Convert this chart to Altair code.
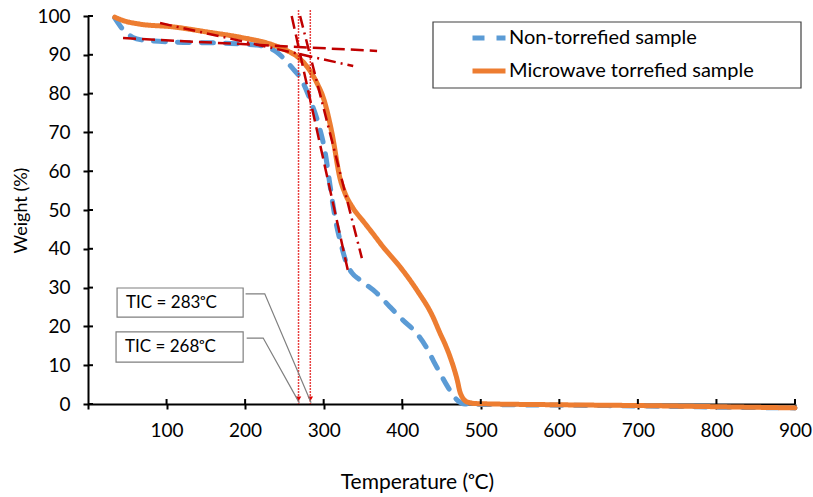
import altair as alt
import pandas as pd

FONT = "Lato"

# Thermogravimetric curves
temp_raw = [34, 45, 57, 70, 108, 172, 215, 240, 260, 272, 283, 293, 302, 308, 315,
            323, 329, 336, 346, 367.5, 384.5, 401, 418, 431, 440, 448, 458, 470, 480,
            500, 600, 700, 800, 900]
weight_raw = [99.5, 96.4, 94.5, 93.8, 93.3, 93.0, 92.5, 90.7, 86.6, 83.5, 78.3, 72.4,
              64.7, 56.5, 47.5, 40.5, 36.3, 33.8, 32.0, 28.6, 25.0, 21.6, 18.3, 14.5,
              11.0, 8.0, 4.4, 1.0, 0.0, -0.1, -0.3, -0.5, -0.8, -1.0]

temp_torr = [34, 45, 66, 108, 151, 194, 236, 255, 266, 279, 291.5, 300.4, 310.6, 321,
             327, 337, 350, 362, 375.6, 397, 418.5, 439, 448, 455, 461, 470, 474, 483,
             495, 600, 700, 800, 900]
weight_torr = [99.7, 98.8, 97.9, 97.2, 95.9, 94.5, 92.5, 90.9, 89.6, 86.9, 82.7, 78.4,
               69.8, 58.0, 54.4, 50.6, 47.2, 44.1, 40.5, 35.4, 29.4, 22.5, 18.3, 15.2,
               12.1, 6.2, 2.8, 0.5, 0.1, -0.2, -0.4, -0.7, -1.0]

series_names = ["Non-torrefied sample", "Microwave torrefied sample"]
series_colors = ["#5B9BD5", "#ED7D31"]

# Tangent construction lines (start/end points)
dash_ids = ["raw_plateau", "raw_plateau", "raw_drop", "raw_drop"]
dash_t = [44.6, 368, 259.3, 331.6]
dash_w = [94.3, 91.0, 100.0, 33.7]
dashdot_ids = ["torr_plateau", "torr_plateau", "torr_drop", "torr_drop"]
dashdot_t = [91.7, 337.6, 270, 348.6]
dashdot_w = [98.2, 87.1, 100.0, 37.6]

# Onset temperatures
tic_values = [268, 283]
tic_labels = ["TIC = 268ᵒC", "TIC = 283ᵒC"]
box_t1 = [35.7, 37.0]
box_t2 = [197.5, 197.5]
box_w1 = [18.6, 29.9]
box_w2 = [10.8, 22.4]
leader_ids = ["a", "a", "a", "b", "b", "b"]
leader_t = [202, 223, 269, 200.6, 225, 284]
leader_w = [17.0, 17.0, 0.3, 28.4, 28.4, 0.3]

x_ticks = [0, 100, 200, 300, 400, 500, 600, 700, 800, 900]
y_ticks = [0, 10, 20, 30, 40, 50, 60, 70, 80, 90, 100]

curves = pd.concat([
    pd.DataFrame({"T": temp_raw, "W": weight_raw, "sample": series_names[0]}),
    pd.DataFrame({"T": temp_torr, "W": weight_torr, "sample": series_names[1]}),
])

x_scale = alt.Scale(domain=[0, 900], nice=False, zero=False)
y_scale = alt.Scale(domain=[0, 100], nice=False, zero=False)

x_axis = alt.Axis(
    values=x_ticks, labelExpr="datum.value == 0 ? '' : datum.label", labelFlush=False,
    labelOverlap=False, title="Temperature (ᵒC)", titleX=329, titlePadding=31, labelPadding=12)
y_axis = alt.Axis(
    values=y_ticks, labelFlush=False, labelOverlap=False, title="Weight (%)",
    titleFontSize=18, titlePadding=6, labelPadding=13)


def xe(field="T"):
    return alt.X(f"{field}:Q", scale=x_scale, axis=x_axis)


def ye(field="W"):
    return alt.Y(f"{field}:Q", scale=y_scale, axis=y_axis)


lines = alt.Chart(curves).mark_line(strokeWidth=5, strokeCap="round", interpolate="monotone").encode(
    x=xe(), y=ye(),
    color=alt.Color("sample:N", scale=alt.Scale(domain=series_names, range=series_colors),
                    legend=alt.Legend(title=None)),
    strokeDash=alt.StrokeDash("sample:N", scale=alt.Scale(domain=series_names, range=[[12, 12], [1, 0]]),
                              legend=alt.Legend(title=None)),
    order=alt.Order("T:Q"),
)

dashed = alt.Chart(pd.DataFrame({"T": dash_t, "W": dash_w, "id": dash_ids})).mark_line(
    color="#C00000", strokeWidth=2.5, strokeDash=[13, 6]).encode(x=xe(), y=ye(), detail="id:N")

dashdot = alt.Chart(pd.DataFrame({"T": dashdot_t, "W": dashdot_w, "id": dashdot_ids})).mark_line(
    color="#C00000", strokeWidth=2.5, strokeDash=[12, 5, 2, 5]).encode(x=xe(), y=ye(), detail="id:N")

tic_df = pd.DataFrame({"T": tic_values, "W": [101.5, 101.5], "W2": [0, 0], "Wa": [1.3, 1.3]})
verticals = alt.Chart(tic_df).mark_rule(color="#E00000", strokeWidth=1.5, strokeDash=[1.5, 1.5]).encode(
    x=xe(), y=ye(), y2="W2:Q")
arrows = alt.Chart(tic_df).mark_point(shape="triangle-down", filled=True, color="#E00000", size=30, opacity=1).encode(
    x=xe(), y=ye("Wa"))

leaders = alt.Chart(pd.DataFrame({"T": leader_t, "W": leader_w, "id": leader_ids})).mark_line(
    color="#7F7F7F", strokeWidth=1.2).encode(x=xe(), y=ye(), detail="id:N",
                                             order=alt.Order("W:Q", sort="descending"))

box_df = pd.DataFrame({"T": box_t1, "T2": box_t2, "W": box_w1, "W2": box_w2, "label": tic_labels,
                       "Wm": [(a + b) / 2 for a, b in zip(box_w1, box_w2)]})
boxes = alt.Chart(box_df).mark_rect(fill="white", stroke="#7F7F7F", strokeWidth=1.2).encode(
    x=xe(), x2="T2:Q", y=ye(), y2="W2:Q")
box_text = alt.Chart(box_df).mark_text(align="left", baseline="middle", dx=9, font=FONT, fontSize=17,
                                       color="black").encode(
    x=xe(), y=ye("Wm"), text="label:N")

# tick marks also reach into the plot area
inner_y = alt.Chart(pd.DataFrame({"W": y_ticks})).mark_rule(color="black", strokeWidth=2).encode(
    y=ye(), x=alt.value(0), x2=alt.value(5))
inner_x = alt.Chart(pd.DataFrame({"T": x_ticks[1:]})).mark_rule(color="black", strokeWidth=2).encode(
    x=xe(), y=alt.value(388), y2=alt.value(383))

legend_frame = alt.Chart(pd.DataFrame({"k": [0]})).mark_rect(
    fill="white", stroke="#404040", strokeWidth=1.2).encode(
    x=alt.value(345), x2=alt.value(713), y=alt.value(6), y2=alt.value(72))

chart = alt.layer(
    legend_frame, lines, dashed, dashdot, verticals, arrows, leaders, boxes, box_text, inner_y, inner_x
).properties(
    width=707, height=388,
    padding={"left": 88, "top": 16, "right": 18, "bottom": 93},
    autosize=alt.AutoSizeParams(type="none"),
).configure_view(stroke=None).configure_axis(
    grid=False, domainColor="black", domainWidth=2, tickColor="black", tickWidth=2, tickSize=5,
    labelFont=FONT, labelFontSize=19, labelColor="black", titleFont=FONT, titleFontSize=21,
    titleFontWeight="normal", titleColor="black",
).configure_legend(
    orient="none", legendX=382, legendY=3, padding=0, symbolType="stroke", symbolStrokeWidth=5,
    symbolSize=1089, labelFont=FONT, labelFontSize=20, labelColor="black", labelOffset=1,
    labelLimit=0, rowPadding=4, symbolOpacity=1,
)

chart.save("out.html", embed_options={"renderer": "svg", "actions": False})
